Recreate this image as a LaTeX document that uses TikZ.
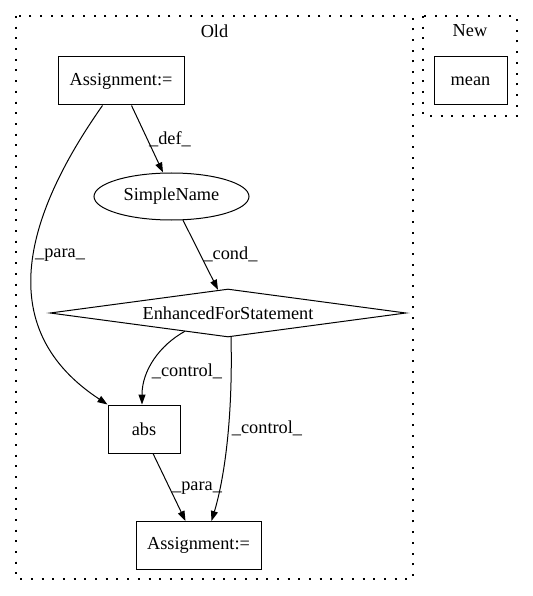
\documentclass[tikz,border=0pt]{standalone}
\usepackage{fontspec}
\setmainfont{Liberation Serif}
\usetikzlibrary{arrows.meta,shapes.geometric,calc}
\begin{document}
\begin{tikzpicture}[x=1bp,y=-1bp,
  every node/.style={font=\fontsize{18.3bp}{21bp}\selectfont, inner sep=0pt},
  box/.style={draw, line width=1bp, minimum width=#1, minimum height=48bp},
  oval/.style={draw, ellipse, line width=1bp, minimum width=155bp, minimum height=47bp},
  dia/.style={draw, diamond, line width=1bp, shape aspect=7.4, minimum width=356bp, minimum height=48bp},
  conn/.style={draw, line width=1bp, -{Triangle[length=10bp,width=7bp]}},
  clusterbox/.style={draw, line width=1.3bp, dash pattern=on 2bp off 8.7bp},
  lbl/.style={anchor=center}
]
\useasboundingbox (0,0) rectangle (533,596);
% clusters
\draw[clusterbox] (16,16) rectangle (413,579);
\draw[clusterbox] (423,16) rectangle (517,116);
\node (lold) at (214.5,31) {Old};
\node (lnew) at (470,31) {New};
% nodes
\node[box=126bp] (A1) at (121,81) {Assignment:=};
\node[oval] (SN) at (171.5,196.5) {SimpleName};
\node[dia] (FS) at (228,313) {EnhancedForStatement};
\node[box=72bp] (abs) at (144,429) {abs};
\node[box=125bp] (A2) at (198.5,545.5) {Assignment:=};
\node[box=73bp] (mean) at (470.5,81) {mean};
% edges
\draw[conn] ($(A1.south west)+(74,0)$) -- ($(SN.north)+(-8.5,0)$);
\draw[conn] ($(SN.south)+(11.5,-0.3)$) -- ($(FS.north)+(-10,1.3)$);
\draw[conn] ($(A1.south west)+(45,0)$) .. controls (22,220) and (-6,330) .. (abs.north west);
\draw[conn] ($(FS.center)+(-43,18.2)$) .. controls (160,345) and (142,370) .. ($(abs.north)+(-2,0)$);
\draw[conn] ($(FS.south)+(3,-0.4)$) .. controls (233,420) and (224,480) .. ($(A2.north west)+(76,0)$);
\draw[conn] ($(abs.south)+(9,0)$) -- ($(A2.north west)+(50,0)$);
% edge labels
\node[lbl] (ldef) at (170,139) {\_def\_};
\node[lbl] (lpara1) at (60,255) {\_para\_};
\node[lbl] (lcond) at (230.5,254) {\_cond\_};
\node[lbl] (lctl1) at (187,371) {\_control\_};
\node[lbl] (lctl2) at (267,428) {\_control\_};
\node[lbl] (lpara2) at (197,488) {\_para\_};
\end{tikzpicture}
\end{document}
